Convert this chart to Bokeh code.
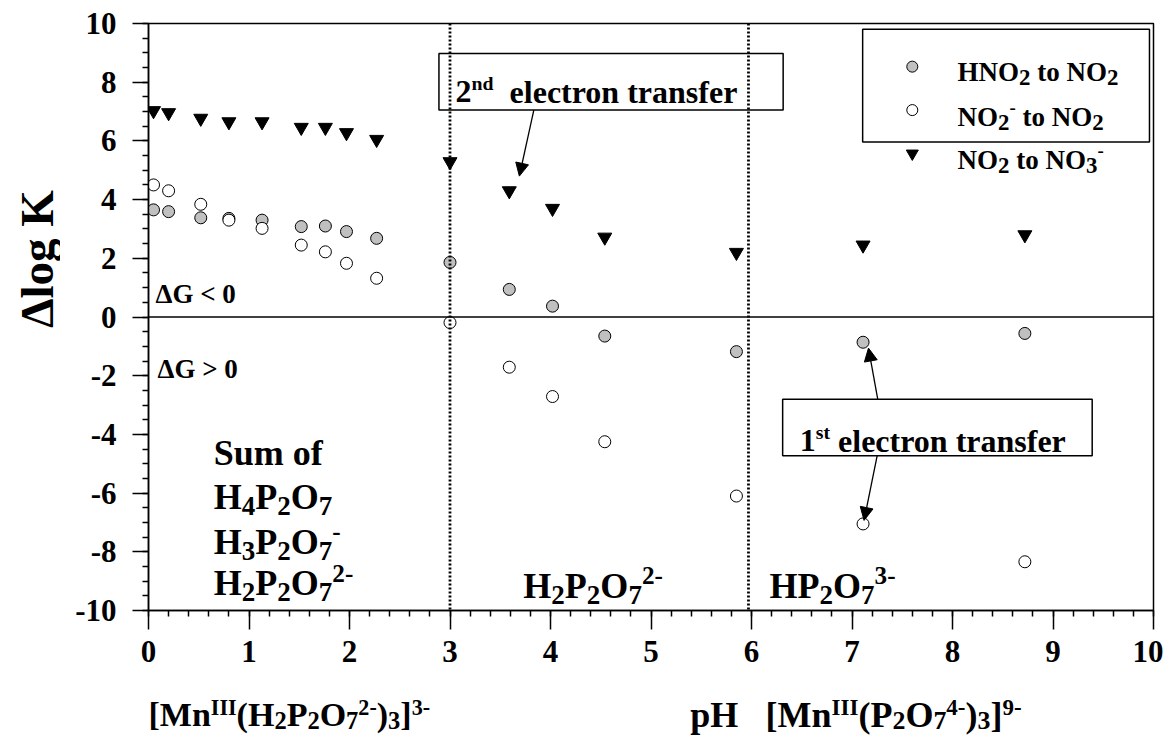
import math
from bokeh.plotting import figure
from bokeh.layouts import column, row
from bokeh.models import (Range1d, SingleIntervalTicker, Label, Span, Arrow, NormalHead,
                          CustomJSTickFormatter)
from bokeh.embed import file_html
from bokeh.resources import INLINE

# ---------------- data ----------------
ph = [0.05, 0.20, 0.52, 0.80, 1.13, 1.52, 1.76, 1.97, 2.27, 3.00, 3.59, 4.02, 4.54, 5.85, 7.11, 8.72]
hno2_to_no2 = [3.65, 3.59, 3.38, 3.36, 3.30, 3.08, 3.10, 2.91, 2.68, 1.86, 0.94, 0.37, -0.65, -1.18, -0.86, -0.56]
no2m_to_no2 = [4.50, 4.30, 3.84, 3.30, 3.02, 2.45, 2.22, 1.83, 1.32, -0.19, -1.71, -2.71, -4.25, -6.10, -7.05, -8.34]
no2_to_no3m = [7.03, 6.96, 6.77, 6.65, 6.65, 6.46, 6.46, 6.28, 6.05, 5.29, 4.30, 3.70, 2.72, 2.20, 2.45, 2.80]
region_bounds = [3.0, 5.97]
x_ticks_major = 1
y_ticks_major = 2

FONT = "Liberation Serif"

# Times-Bold metrics (Liberation Serif Bold is metric compatible)
W = {' ': .25, '(': .333, ')': .333, '[': .333, ']': .333, '-': .333, '<': .57, '>': .57,
     '0': .5, '1': .5, '2': .5, '3': .5, '4': .5, '5': .5, '6': .5, '7': .5, '8': .5, '9': .5,
     'A': .722, 'G': .778, 'H': .778, 'I': .389, 'K': .778, 'M': .944, 'N': .722, 'O': .778,
     'P': .611, 'S': .556, 'a': .5, 'c': .444, 'd': .556, 'e': .444, 'f': .333, 'g': .5,
     'l': .278, 'm': .833, 'n': .556, 'o': .5, 'p': .556, 'r': .444, 's': .389, 't': .333,
     'u': .556, 'Δ': .612}


def tw(s):
    return sum(W.get(c, .5) for c in s)


LEFT_W = 60
TOTAL_W = 1163
MAIN_H = 690
BOT_H = 46

p = figure(width=TOTAL_W - LEFT_W, height=MAIN_H, output_backend="svg", toolbar_location=None,
           x_range=Range1d(0, 10), y_range=Range1d(-10, 10), title=None,
           min_border_left=148 - LEFT_W, min_border_right=10, min_border_top=23,
           min_border_bottom=MAIN_H - 610)
p.background_fill_color = "white"
p.border_fill_color = "white"
p.outline_line_color = "black"
p.outline_line_width = 1.5
p.grid.visible = False


def rich(fig, x, y, segs, size, sub=0.75, sub_dy=-0.25, sup=0.7, sup_dy=0.28):
    off = 0.0
    for txt, kind in segs:
        if kind == 'n':
            fs, dy = size, 0.0
        elif kind == 'sub':
            fs, dy = size * sub, size * sub_dy
        else:
            fs, dy = size * sup, size * sup_dy
        lead = len(txt) - len(txt.lstrip(' '))
        off += lead * W[' '] * fs
        core = txt.strip(' ')
        if core:
            fig.add_layout(Label(x=x, y=y, x_offset=off, y_offset=dy, text=core,
                                 text_font=FONT, text_font_style="bold",
                                 text_font_size=f"{fs:.1f}px", text_baseline="alphabetic",
                                 text_align="left", text_color="black"))
            off += tw(core) * fs
        trail = len(txt) - len(txt.rstrip(' '))
        off += trail * W[' '] * fs


# ---------------- axes ----------------
xa = p.xaxis[0]
xa.ticker = SingleIntervalTicker(interval=x_ticks_major, num_minor_ticks=5)
ya = p.yaxis[0]
ya.ticker = SingleIntervalTicker(interval=y_ticks_major, num_minor_ticks=4)
fmt = CustomJSTickFormatter(code="return tick.toFixed(0);")
for ax in (xa, ya):
    ax.formatter = fmt
    ax.axis_line_width = 1.5
    ax.major_tick_line_width = 1.5
    ax.minor_tick_line_width = 1.5
    ax.major_tick_in = 0
    ax.minor_tick_in = 0
    ax.minor_tick_out = 6
    ax.major_label_text_font = FONT
    ax.major_label_text_font_style = "bold"
    ax.major_label_text_font_size = "31px"
    ax.major_label_text_color = "black"
xa.major_tick_out = 19
xa.major_label_standoff = 11
ya.major_tick_out = 16
ya.major_label_standoff = 16

# ---------------- annotation boxes (behind lines) ----------------
p.quad(left=[2.89], right=[6.315], top=[8.98], bottom=[7.05], fill_color="white",
       line_color="black", line_width=1.5)
p.quad(left=[6.31], right=[9.39], top=[-2.80], bottom=[-4.73], fill_color="white",
       line_color="black", line_width=1.5)

# zero line and region boundaries
p.add_layout(Span(location=0, dimension="width", line_color="black", line_width=1.3))
for b in region_bounds:
    p.add_layout(Span(location=b, dimension="height", line_color="black", line_width=2.8,
                      line_dash="2 2"))

# ---------------- data marks ----------------
p.scatter(ph, hno2_to_no2, marker="circle", size=12, fill_color="#c0c0c0",
          line_color="black", line_width=1)
p.scatter(ph, no2m_to_no2, marker="circle", size=12, fill_color="white",
          line_color="black", line_width=1)
p.scatter(ph, no2_to_no3m, marker="inverted_triangle", size=14, fill_color="black",
          line_color="black", line_width=1)

# ---------------- legend (manual, with sub/superscripts) ----------------
p.quad(left=[7.106], right=[9.96], top=[9.80], bottom=[5.96], fill_color="white",
       line_color="black", line_width=1.5)
leg_y_marker = [8.53, 7.05, 5.57]
leg_y_text = [8.35, 6.81, 5.35]
p.scatter([7.60], [leg_y_marker[0]], marker="circle", size=11, fill_color="#c0c0c0",
          line_color="black", line_width=1)
p.scatter([7.60], [leg_y_marker[1]], marker="circle", size=11, fill_color="white",
          line_color="black", line_width=1)
p.scatter([7.60], [leg_y_marker[2]], marker="inverted_triangle", size=12, fill_color="black",
          line_color="black", line_width=1)
LS = 27
rich(p, 8.05, leg_y_text[0], [("HNO", 'n'), ("2", 'sub'), (" to NO", 'n'), ("2", 'sub')], LS,
     sub=0.85, sub_dy=-0.2)
rich(p, 8.05, leg_y_text[1], [("NO", 'n'), ("2", 'sub'), ("-", 'sup'), (" to NO", 'n'), ("2", 'sub')], LS,
     sub=0.85, sub_dy=-0.2, sup_dy=0.35)
rich(p, 8.05, leg_y_text[2], [("NO", 'n'), ("2", 'sub'), (" to NO", 'n'), ("3", 'sub'), ("-", 'sup')], LS,
     sub=0.85, sub_dy=-0.2, sup_dy=0.35)

# ---------------- texts ----------------
rich(p, 0.07, 0.78, [("ΔG < 0", 'n')], 27)
rich(p, 0.09, -1.77, [("ΔG > 0", 'n')], 27)

BS = 36
rich(p, 0.65, -4.62, [("Sum of", 'n')], BS)
rich(p, 0.65, -6.13, [("H", 'n'), ("4", 'sub'), ("P", 'n'), ("2", 'sub'), ("O", 'n'), ("7", 'sub')], BS)
rich(p, 0.65, -7.66, [("H", 'n'), ("3", 'sub'), ("P", 'n'), ("2", 'sub'), ("O", 'n'), ("7", 'sub'),
                      ("-", 'sup')], BS)
rich(p, 0.65, -9.07, [("H", 'n'), ("2", 'sub'), ("P", 'n'), ("2", 'sub'), ("O", 'n'), ("7", 'sub'),
                      ("2-", 'sup')], BS)
rich(p, 3.73, -9.15, [("H", 'n'), ("2", 'sub'), ("P", 'n'), ("2", 'sub'), ("O", 'n'), ("7", 'sub'),
                      ("2-", 'sup')], BS)
rich(p, 6.18, -9.15, [("HP", 'n'), ("2", 'sub'), ("O", 'n'), ("7", 'sub'), ("3-", 'sup')], BS)

AS = 32
rich(p, 3.055, 7.68, [("2", 'n'), ("nd", 'sup'), ("  electron transfer", 'n')], AS, sup=0.62)
rich(p, 6.48, -4.21, [("1", 'n'), ("st", 'sup'), (" electron transfer", 'n')], AS, sup=0.62)

# arrows
for xs, ys, xe, ye in [(3.834, 7.05, 3.69, 4.80), (7.256, -2.80, 7.164, -1.06),
                       (7.25, -4.73, 7.12, -6.93)]:
    p.add_layout(Arrow(end=NormalHead(size=13, fill_color="black", line_color="black"),
                       x_start=xs, y_start=ys, x_end=xe, y_end=ye,
                       line_color="black", line_width=1.3))

# ---------------- y-axis title strip (left) ----------------
pl = figure(width=LEFT_W, height=MAIN_H, output_backend="svg", toolbar_location=None,
            x_range=Range1d(0, LEFT_W), y_range=Range1d(0, MAIN_H), title=None,
            x_axis_type=None, y_axis_type=None,
            min_border_left=0, min_border_right=0, min_border_top=0, min_border_bottom=0)
pl.outline_line_color = None
pl.grid.visible = False
pl.add_layout(Label(x=36, y=MAIN_H - 277, text="Δlog K", angle=math.pi / 2, text_font=FONT,
                    text_font_style="bold", text_font_size="47px", text_align="center",
                    text_baseline="middle", text_color="black"))

# ---------------- x-axis titles strip (bottom) ----------------
pb = figure(width=TOTAL_W, height=BOT_H, output_backend="svg", toolbar_location=None,
            x_range=p.x_range, y_range=Range1d(0, BOT_H), title=None,
            x_axis_type=None, y_axis_type=None,
            min_border_left=148, min_border_right=10, min_border_top=0, min_border_bottom=0)
pb.outline_line_color = None
pb.grid.visible = False
base_y = 22
rich(pb, 0.0, base_y, [("[Mn", 'n'), ("III", 'sup'), ("(H", 'n'), ("2", 'sub'), ("P", 'n'), ("2", 'sub'),
                       ("O", 'n'), ("7", 'sub'), ("2-", 'sup'), (")", 'n'), ("3", 'sub'), ("]", 'n'),
                       ("3-", 'sup')], 34, sub=0.72, sub_dy=-0.19, sup=0.65, sup_dy=0.2)
rich(pb, 5.39, base_y, [("pH", 'n')], 36)
rich(pb, 6.14, base_y, [("[Mn", 'n'), ("III", 'sup'), ("(P", 'n'), ("2", 'sub'), ("O", 'n'), ("7", 'sub'),
                        ("4-", 'sup'), (")", 'n'), ("3", 'sub'), ("]", 'n'), ("9-", 'sup')], 36,
     sub=0.72, sub_dy=-0.18, sup=0.64, sup_dy=0.2)

layout = column(row(pl, p), pb)
open("out.html", "w").write(file_html(layout, INLINE))
